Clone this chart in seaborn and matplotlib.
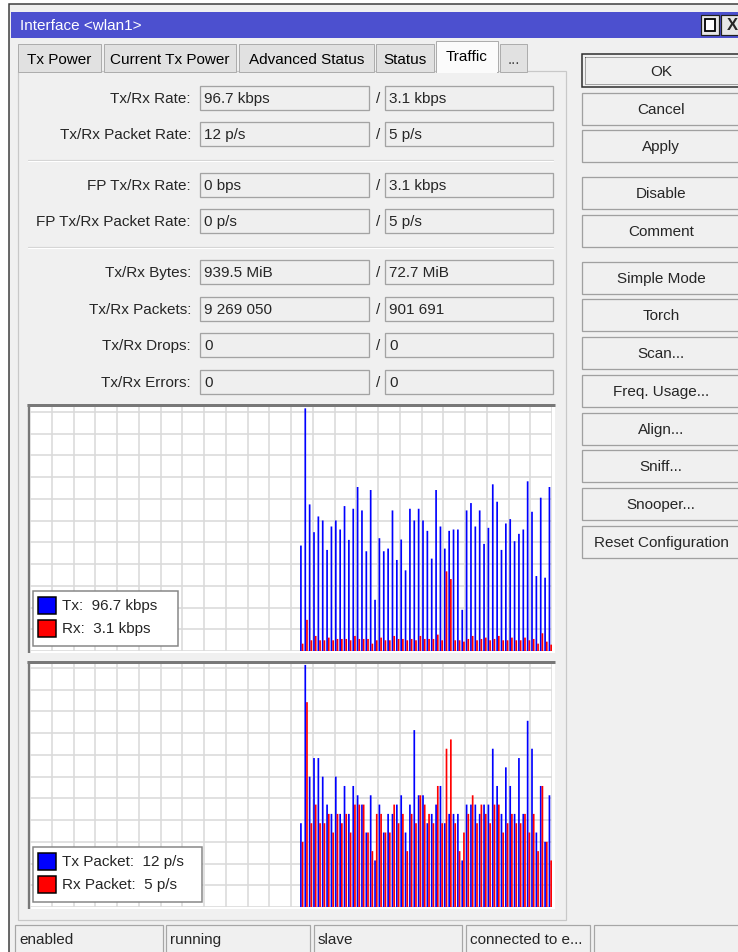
import matplotlib
matplotlib.use("Agg")
import matplotlib.pyplot as plt
from matplotlib.patches import Rectangle
from matplotlib.ticker import MultipleLocator
import pandas as pd
import seaborn as sns

sns.set_theme(style="white")
plt.rcParams['font.family'] = ['Liberation Sans', 'DejaVu Sans']

W, H = 738, 953
FS = 11

# values
tx_rate = [63, 145, 87.6, 71, 80.4, 78, 60.4, 74.4, 78, 72.6, 86.6, 66.4, 85, 98, 84, 59.6,
           96.2, 30.6, 67.4, 59.6, 61.2, 84, 54.4, 66.6, 48.2, 85, 78, 85, 78, 71.8, 55.2, 96.2,
           74.4, 61.2, 71.8, 72.6, 72.6, 24.6, 84, 88.4, 74.4, 84, 64, 73.6, 99.6, 89.2, 60.4,
           76.2, 78.8, 65.6, 70, 72.6, 101.4, 83.2, 44.8, 91.6, 43.8, 98]
rx_rate = [4.4, 18.6, 6.4, 9, 6.4, 6.4, 8, 6.4, 7.2, 7.2, 7.2, 6.4, 9, 7.2, 7.2, 7.2, 4.4, 6.4,
           8, 6.4, 6.4, 9, 7.2, 7.2, 6.4, 7.2, 6.4, 9, 7.2, 7.2, 7.2, 9.8, 6.4, 47.6, 43, 6.4,
           6.4, 5.6, 7.2, 9, 6.4, 7.2, 8, 6.4, 7.2, 9, 6.4, 6.4, 8, 6.4, 6.4, 8, 6.4, 7.2, 4.4,
           10.6, 5.6, 3.8]
tx_pkt = [9, 26, 14, 16, 16, 14, 11, 10, 14, 10, 13, 10, 13, 12, 11, 8, 12, 5, 11, 8, 10, 10,
          11, 12, 8, 11, 19, 12, 12, 9, 10, 11, 13, 9, 10, 10, 10, 5, 11, 11, 11, 10, 11, 11,
          17, 13, 10, 15, 13, 10, 16, 10, 20, 17, 8, 13, 7, 12]
rx_pkt = [7, 22, 9, 11, 9, 9, 10, 8, 10, 9, 10, 8, 11, 11, 11, 8, 6, 10, 10, 8, 8, 11, 9, 10,
          6, 10, 9, 12, 11, 10, 9, 13, 9, 17, 18, 9, 6, 8, 10, 12, 9, 11, 10, 9, 11, 11, 8, 9,
          10, 9, 9, 10, 8, 10, 6, 13, 7, 5]

field_labels = ["Tx/Rx Rate:", "Tx/Rx Packet Rate:", "FP Tx/Rx Rate:", "FP Tx/Rx Packet Rate:",
                "Tx/Rx Bytes:", "Tx/Rx Packets:", "Tx/Rx Drops:", "Tx/Rx Errors:"]
tx_fields = ["96.7 kbps", "12 p/s", "0 bps", "0 p/s", "939.5 MiB", "9 269 050", "0", "0"]
rx_fields = ["3.1 kbps", "5 p/s", "3.1 kbps", "5 p/s", "72.7 MiB", "901 691", "0", "0"]
tabs = ["Tx Power", "Current Tx Power", "Advanced Status", "Status", "Traffic", "..."]
buttons = ["OK", "Cancel", "Apply", "Disable", "Comment", "Simple Mode", "Torch", "Scan...",
           "Freq. Usage...", "Align...", "Sniff...", "Snooper...", "Reset Configuration"]
status = ["enabled", "running", "slave", "connected to e...", ""]
legend_rate = ["Tx:  96.7 kbps", "Rx:  3.1 kbps"]
legend_pkt = ["Tx Packet:  12 p/s", "Rx Packet:  5 p/s"]

# layout (pixels)
row_y = [99, 135, 186, 222, 273, 310, 346, 383]
tab_x = [(18, 101), (104, 236), (239, 374), (376, 434), (436, 498), (500, 527)]
button_y = [72, 110, 147, 194, 232, 279, 316, 354, 392, 430, 467, 505, 543]
status_x = [(15, 163), (166, 310), (314, 462), (466, 590), (594, 745)]
PX = 0.72  # one pixel in points


def box(ax, x0, y0, x1, y1, fc, ec, lw=1.0, **kw):
    ax.add_patch(Rectangle((x0, y0), x1 - x0, y1 - y0, facecolor=fc, edgecolor=ec,
                           linewidth=lw * PX, **kw))


fig = plt.figure(figsize=(W / 100, H / 100), dpi=100, facecolor="white")

bg = fig.add_axes([0, 0, 1, 1], zorder=0)
bg.set_xlim(0, W)
bg.set_ylim(H, 0)
bg.axis("off")

# window frame + title bar
box(bg, 9, 5, W + 5, H + 5, "#f0f0f0", "#3a3a3a", 1.5)
box(bg, 11, 13, W + 5, 39, "#4c50cf", "none")
bg.text(20, 26, "Interface <wlan1>", color="white", fontsize=FS, va="center")
box(bg, 701, 16, 719, 36, "#e6e6e6", "#202020", 1.2)
box(bg, 705, 20, 715, 32, "white", "black", 1.8)
box(bg, 721, 16, 745, 36, "#e6e6e6", "#202020", 1.2)
bg.text(727, 26, "X", fontsize=12, fontweight="bold", va="center")

# tab page
box(bg, 18, 72, 566, 921, "#f0f0f0", "#c8c8c8", 1.2)
for (x0, x1), name in zip(tab_x, tabs):
    sel = name == "Traffic"
    y0 = 42 if sel else 45
    box(bg, x0, y0, x1, 73, "#fbfbfb" if sel else "#e1e1e1", "#adadad", 1.0)
    bg.text((x0 + x1) / 2, 57 if sel else 60, name, fontsize=FS, ha="center", va="center",
            color="#444444" if name == "..." else "black")
box(bg, 437, 71, 497, 74, "#fbfbfb", "none")

# field rows
for y, lab, tv, rv in zip(row_y, field_labels, tx_fields, rx_fields):
    bg.text(191, y, lab, fontsize=FS, ha="right", va="center")
    box(bg, 200, y - 12, 369, y + 12, "#efefef", "#a3a3a3", 1.3)
    box(bg, 385, y - 12, 553, y + 12, "#efefef", "#a3a3a3", 1.3)
    bg.text(204, y, tv, fontsize=FS, va="center")
    bg.text(378, y, "/", fontsize=FS, ha="center", va="center")
    bg.text(389, y, rv, fontsize=FS, va="center")
for y in (161, 248):
    bg.plot([28, 553], [y, y], color="#d6d6d6", lw=1.2 * PX)
    bg.plot([28, 553], [y + 1, y + 1], color="white", lw=1.0 * PX)

# buttons on the right
for y, name in zip(button_y, buttons):
    if name == "OK":
        box(bg, 582, y - 17, W + 5, y + 16, "#f0f0f0", "#2a2a2a", 1.5)
        box(bg, 585, y - 14, W + 5, y + 13, "none", "#555555", 1.0, linestyle=(0, (1, 1)))
    else:
        box(bg, 582, y - 16, W + 5, y + 16, "#f0f0f0", "#a0a0a0", 1.3)
    bg.text(661, y, name, fontsize=FS, ha="center", va="center")

# status bar
for (x0, x1), txt in zip(status_x, status):
    box(bg, x0, 926, x1, H + 5, "#f0f0f0", "#a6a6a6", 1.2)
    bg.text(x0 + 4, 940, txt, fontsize=FS, va="center")


def chart(y0, y1, tx, rx, ymax, labels):
    x0, x1 = 30, 552
    # sunken frame
    box(bg, 27, y0 - 3, 555, y1 + 2, "white", "none")
    bg.plot([27, 555], [y0 - 2, y0 - 2], color="#787878", lw=3 * PX, solid_capstyle="butt")
    bg.plot([28.5, 28.5], [y0 - 3, y1 + 2], color="#787878", lw=2.5 * PX, solid_capstyle="butt")
    rect = [x0 / W, 1 - y1 / H, (x1 - x0) / W, (y1 - y0) / H]
    g = fig.add_axes(rect, zorder=1)
    g.set_facecolor("white")
    g.set_xlim(0, (x1 - x0) / 21.75)
    g.set_ylim(0, (y1 - y0) / 21.75)
    g.xaxis.set_major_locator(MultipleLocator(1))
    g.yaxis.set_major_locator(MultipleLocator(1))
    g.grid(True, color="#dadada", lw=1.6 * PX)
    g.tick_params(length=0, labelbottom=False, labelleft=False)
    for s in g.spines.values():
        s.set_visible(False)

    ax = fig.add_axes(rect, zorder=2)
    ax.patch.set_alpha(0)
    n = len(tx)
    df = pd.DataFrame({"sample": list(range(n)) * 2, "value": tx + rx,
                       "dir": ["Tx"] * n + ["Rx"] * n})
    sns.barplot(data=df, x="sample", y="value", hue="dir", hue_order=["Tx", "Rx"],
                palette={"Tx": "#0000ff", "Rx": "#ff0000"}, width=0.78, saturation=1,
                edgecolor="none", linewidth=0, errorbar=None, legend=False, ax=ax,
                snap=False)
    ax.set_xlim(-62.33, 57.39)
    ax.set_ylim(0, ymax)
    ax.axis("off")

    # legend box
    ly1 = y1 - 5
    lx1 = 178 if labels is legend_rate else 202
    fg = fig.add_axes([0, 0, 1, 1], zorder=3)
    fg.set_xlim(0, W)
    fg.set_ylim(H, 0)
    fg.axis("off")
    fg.patch.set_alpha(0)
    box(fg, 33, ly1 - 55, lx1, ly1, "white", "#858585", 1.5)
    for k, (lab, col) in enumerate(zip(labels, ["#0000ff", "#ff0000"])):
        cy = ly1 - 41 + 23 * k
        box(fg, 38, cy - 8.5, 56, cy + 8.5, col, "black", 1.5)
        fg.text(62, cy, lab, fontsize=FS, va="center")


chart(408, 652, tx_rate, rx_rate, 145.8, legend_rate)
chart(665, 908, tx_pkt, rx_pkt, 26.1, legend_pkt)

fig.savefig("out.png", dpi=100)
